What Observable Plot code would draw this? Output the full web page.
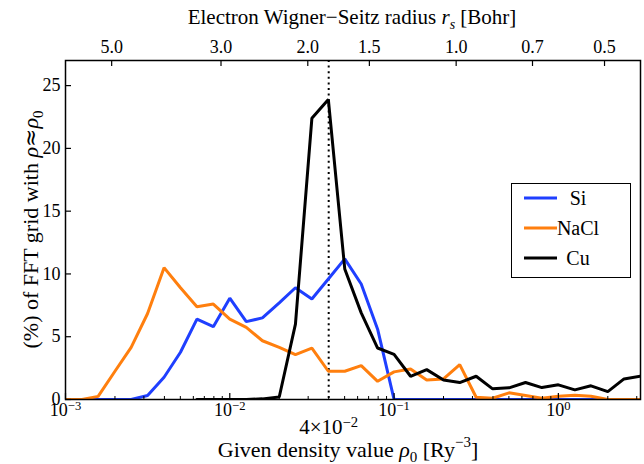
<!DOCTYPE html>
<html><head><meta charset="utf-8">
<script src="https://cdn.jsdelivr.net/npm/d3@7"></script>
<script src="https://cdn.jsdelivr.net/npm/@observablehq/plot@0.6"></script>
<style>body{margin:0;background:#fff}#chart{width:644px;height:464px}</style>
</head><body><div id="chart"></div>
<script>
// Given density grid rho0 [Ry^-3]
const density = [0.001, 0.00126, 0.00158, 0.002, 0.00251, 0.00316, 0.00398, 0.00501, 0.00631, 0.00794,
  0.01, 0.0126, 0.0158, 0.02, 0.0251, 0.0316, 0.0398, 0.0501, 0.0631, 0.0794,
  0.1, 0.126, 0.158, 0.2, 0.251, 0.316, 0.398, 0.501, 0.631, 0.794,
  1.0, 1.26, 1.58, 2.0, 2.51, 3.16];
// (%) of FFT grid with rho ~ rho0
const si = [0, 0, 0, 0, 0, 0.32, 1.77, 3.76, 6.4, 5.8,
  8.07, 6.2, 6.5, 7.7, 8.9, 8.0, 9.6, 11.2, 9.2, 5.6,
  0, 0, 0, 0, 0, 0, 0, 0, 0, 0,
  0, 0, 0, 0, 0, 0];
const nacl = [0, 0, 0.25, 2.25, 4.15, 6.85, 10.5, 8.9, 7.38, 7.6,
  6.4, 5.74, 4.68, 4.15, 3.57, 4.1, 2.25, 2.25, 2.7, 1.45,
  2.2, 2.43, 1.56, 1.64, 2.78, 0.18, 0.1, 0.53, 0.32, 0.1,
  0.26, 0.34, 0.26, 0, 0, 0];
const cu = [null, null, null, null, null, null, null, null, 0, 0,
  0, 0, 0.05, 0.2, 6.0, 22.4, 23.9, 10.4, 6.9, 4.1,
  3.6, 1.85, 2.38, 1.56, 1.35, 1.85, 0.85, 0.93, 1.35, 0.95,
  1.17, 0.77, 1.09, 0.63, 1.64, 1.85];
const seriesNames = ["Si", "NaCl", "Cu"];
const seriesColors = ["#1f3fff", "#ff7f0e", "#000000"];
const yTicks = [0, 5, 10, 15, 20, 25];
const majorTicks = [0.001, 0.01, 0.1, 1];
const majorLabels = ["10^−3", "10^−2", "10^−1", "10^0"];
const minorTicks = [0.002,0.003,0.004,0.005,0.006,0.007,0.008,0.009,
  0.02,0.03,0.04,0.05,0.06,0.07,0.08,0.09,0.2,0.3,0.4,0.5,0.6,0.7,0.8,0.9,2,3];
const markedDensity = [0.04];
const markedLabel = "4×10^−2";
const rsTicks = [5.0, 3.0, 2.0, 1.5, 1.0, 0.7, 0.5];

const rows = [];
[si, nacl, cu].forEach((vals, s) => vals.forEach((v, i) => {
  if (v !== null) rows.push({rho: density[i], pct: v, series: seriesNames[s]});
}));
const rsRho = rsTicks.map(r => 3 / (4 * Math.PI * r ** 3));
const majMap = new Map(majorTicks.map((d, i) => [d, majorLabels[i]]));

const serif = "'Liberation Serif','Times New Roman',serif";
const svg = Plot.plot({
  width: 644, height: 464,
  marginLeft: 65, marginRight: 4, marginTop: 60, marginBottom: 65,
  style: {fontFamily: serif, fontSize: "18px", background: "white", color: "black", overflow: "visible"},
  x: {type: "log", domain: [1e-3, 10 ** 0.5], axis: null},
  y: {domain: [0, 27], axis: null},
  color: {domain: seriesNames, range: seriesColors},
  marks: [
    Plot.ruleX(markedDensity, {stroke: "black", strokeWidth: 2, strokeDasharray: "2,3.6"}),
    Plot.line(rows, {x: "rho", y: "pct", z: "series", stroke: "series", strokeWidth: 3,
      strokeLinejoin: "miter", clip: true}),
    Plot.frame({stroke: "black", strokeWidth: 1.5}),
    Plot.axisY({ticks: yTicks, tickSize: -6, tickPadding: 11, label: null, strokeWidth: 1.2}),
    Plot.axisX({ticks: majorTicks, tickSize: -6, tickPadding: 10, label: null, strokeWidth: 1.2,
      tickFormat: d => majMap.get(d)}),
    Plot.axisX({ticks: minorTicks, tickSize: -3, label: null, tickFormat: () => ""}),
    Plot.text(markedDensity, {x: d => d, frameAnchor: "bottom", lineAnchor: "top", dy: 20,
      fontSize: 21, text: () => markedLabel}),
    Plot.axisX({anchor: "top", ticks: rsRho, tickSize: -5, label: null, strokeWidth: 1.2,
      tickFormat: () => ""}),
    Plot.text(rsRho, {x: d => d, frameAnchor: "top", lineAnchor: "bottom", dy: -8,
      text: (d, i) => rsTicks[i].toFixed(1)})
  ]
});
document.getElementById("chart").appendChild(svg);

const S = d3.select(svg);
// superscripts in tick labels
S.selectAll("text").each(function () {
  const t = this.textContent;
  if (t.includes("^")) {
    const [base, ex] = t.split("^");
    const el = d3.select(this);
    el.text(base);
    el.append("tspan").attr("dy", "-0.5em").attr("font-size", "0.7em").text(ex);
  }
});

function rich(sel, parts, fs) {
  const small = Math.round(fs * 0.68);
  parts.forEach(p => {
    const ts = sel.append("tspan").text(p.t);
    if (p.i) ts.attr("font-style", "italic");
    if (p.f) ts.attr("font-family", p.f);
    if (p.sub) ts.attr("font-size", small).attr("dy", fs * 0.22);
    if (p.sup) ts.attr("font-size", small).attr("dy", -fs * 0.45);
    if (p.dyAfter) ts.attr("dy", p.dyAfter * fs);
  });
}
// top title
const fTop = 21;
rich(S.append("text").attr("x", 352).attr("y", 24).attr("text-anchor", "middle")
  .attr("font-size", fTop).attr("fill", "black"),
  [{t: "Electron Wigner−Seitz radius "}, {t: "r", i: true}, {t: "s", i: true, sub: true},
   {t: " [Bohr]", dyAfter: -0.22}], fTop);
// x title
const fX = 22;
rich(S.append("text").attr("x", 348).attr("y", 457).attr("text-anchor", "middle")
  .attr("font-size", fX).attr("fill", "black"),
  [{t: "Given density value "}, {t: "ρ", i: true}, {t: "0", sub: true},
   {t: " [Ry", dyAfter: -0.22}, {t: "−3", sup: true}, {t: "]", dyAfter: 0.45}], fX);
// y title
const fY = 22;
rich(S.append("text").attr("transform", "translate(38,229.5) rotate(-90)").attr("text-anchor", "middle")
  .attr("font-size", fY).attr("fill", "black"),
  [{t: "(%) of FFT grid with "}, {t: "ρ", i: true}, {t: "≈", f: "'DejaVu Serif'"}, {t: "ρ", i: true}, {t: "0", sub: true}], fY);

// legend
const L = S.append("g");
L.append("rect").attr("x", 511.5).attr("y", 183.5).attr("width", 119).attr("height", 94)
  .attr("fill", "white").attr("stroke", "black").attr("stroke-width", 1);
seriesNames.forEach((n, i) => {
  const y = 198 + i * 30;
  L.append("line").attr("x1", 524).attr("x2", 557).attr("y1", y).attr("y2", y)
    .attr("stroke", seriesColors[i]).attr("stroke-width", 3);
  L.append("text").attr("x", 578).attr("y", y + 7).attr("font-size", 20).attr("fill", "black").text(n);
});
</script></body></html>
